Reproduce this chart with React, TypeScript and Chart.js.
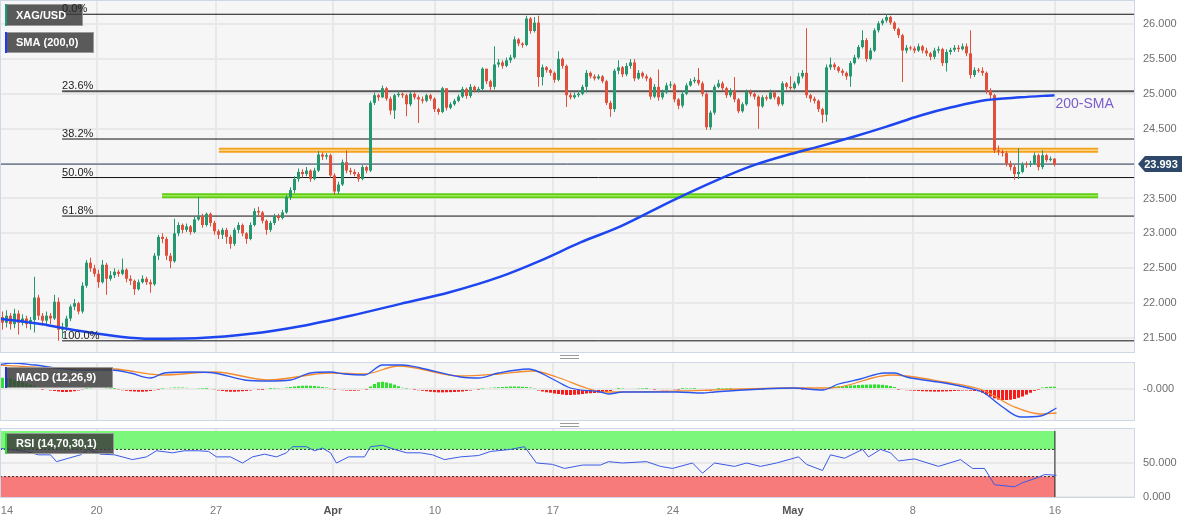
import React, { useEffect, useRef } from 'react';
import { Chart, registerables } from 'chart.js';

Chart.register(...registerables);

const FONT = '"Liberation Sans", Arial, Helvetica, sans-serif';

// ---------- price data (4H candles, XAG/USD) ----------
const FIRST_OPEN = 21.8;
const CLOSES = [
  21.72, 21.82, 21.70, 21.85, 21.72, 21.78, 21.70, 21.76, 22.08, 21.82,
  21.75, 21.82, 21.78, 22.02, 21.62, 21.66, 21.78, 21.95, 22.00, 21.88,
  22.25, 22.58, 22.50, 22.42, 22.30, 22.55, 22.35, 22.40, 22.45, 22.42,
  22.48, 22.35, 22.32, 22.20, 22.30, 22.35, 22.30, 22.27, 22.68, 22.95,
  22.92, 22.68, 22.60, 23.00, 23.12, 23.05, 23.10, 23.02, 23.20, 23.25,
  23.12, 23.28, 23.15, 23.03, 22.98, 23.05, 22.95, 22.85, 23.05, 23.12,
  23.00, 22.92, 23.12, 23.32, 23.30, 23.18, 23.05, 23.15, 23.25, 23.22,
  23.30, 23.52, 23.62, 23.78, 23.88, 23.85, 23.90, 23.78, 23.90, 24.13,
  24.10, 24.12, 23.83, 23.60, 23.70, 24.02, 23.90, 23.88, 23.85, 23.78,
  23.95, 23.90, 24.87, 24.98, 24.95, 25.08, 24.93, 24.76, 24.98, 25.00,
  24.98, 24.85, 25.00, 24.95, 24.92, 24.90, 24.98, 24.93, 24.78, 24.74,
  25.08, 24.80, 24.85, 24.90, 24.96, 25.07, 24.97, 25.10, 25.05, 25.07,
  25.36, 25.18, 25.10, 25.42, 25.45, 25.40, 25.48, 25.52, 25.78, 25.72,
  25.70, 26.08, 25.90, 26.02, 25.24, 25.38, 25.34, 25.30, 25.20, 25.50,
  25.40, 24.98, 24.95, 24.98, 25.00, 25.10, 25.30, 25.25, 25.22, 25.25,
  25.18, 24.87, 24.78, 25.33, 25.38, 25.28, 25.40, 25.45, 25.22, 25.30,
  25.25, 25.22, 24.96, 25.10, 24.95, 25.02, 25.12, 25.13, 24.92, 24.83,
  25.00, 25.12, 25.18, 25.20, 25.15, 25.00, 24.52, 24.73, 25.10, 25.15,
  25.08, 24.98, 25.05, 24.92, 24.75, 24.85, 25.03, 25.00, 24.96, 24.82,
  24.95, 24.93, 25.02, 24.95, 24.85, 25.15, 25.10, 25.08, 25.15, 25.25,
  25.30, 24.98, 24.93, 24.90, 24.78, 24.70, 25.38, 25.42, 25.38, 25.33,
  25.30, 25.25, 25.44, 25.52, 25.67, 25.77, 25.50, 25.62, 25.91, 26.01,
  26.05, 26.10, 26.02, 25.93, 25.84, 25.62, 25.66, 25.65, 25.62, 25.68,
  25.62, 25.58, 25.53, 25.62, 25.64, 25.44, 25.60, 25.63, 25.66, 25.64,
  25.68, 25.58, 25.27, 25.34, 25.33, 25.30, 25.05, 24.98, 24.19, 24.17,
  24.15, 24.00, 23.95, 23.85, 23.88, 23.99, 23.98, 24.00, 24.12, 23.95,
  24.12, 24.05, 24.07, 23.99,
];
const HIGHS = [
  21.88, 21.90, 21.86, 21.92, 21.90, 21.84, 21.82, 21.80, 22.38, 22.12,
  21.86, 21.88, 21.86, 22.12, 22.08, 21.72, 21.82, 21.98, 22.06, 22.02,
  22.30, 22.62, 22.65, 22.55, 22.48, 22.62, 22.58, 22.46, 22.50, 22.48,
  22.64, 22.50, 22.40, 22.34, 22.34, 22.40, 22.38, 22.34, 22.72, 22.98,
  23.00, 22.95, 22.72, 23.21, 23.16, 23.14, 23.14, 23.12, 23.24, 23.52,
  23.28, 23.30, 23.30, 23.18, 23.06, 23.08, 23.08, 22.98, 23.08, 23.16,
  23.14, 23.02, 23.16, 23.36, 23.38, 23.32, 23.20, 23.18, 23.28, 23.28,
  23.34, 23.55, 23.66, 23.82, 23.93, 23.92, 23.95, 23.92, 23.94, 24.18,
  24.16, 24.15, 24.14, 23.86, 23.74, 24.06, 24.19, 23.94, 23.92, 23.88,
  23.98, 23.97, 24.90, 25.02, 25.00, 25.12, 25.10, 24.96, 25.00, 25.04,
  25.02, 25.00, 25.03, 25.02, 24.98, 24.96, 25.00, 25.00, 24.95, 24.80,
  25.10, 25.07, 24.88, 24.93, 24.99, 25.10, 25.09, 25.14, 25.12, 25.10,
  25.38, 25.36, 25.20, 25.68, 25.50, 25.48, 25.52, 25.56, 25.82, 25.80,
  25.74, 26.12, 26.10, 26.10, 26.12, 25.42, 25.40, 25.36, 25.32, 25.61,
  25.52, 25.42, 25.02, 25.02, 25.04, 25.13, 25.34, 25.32, 25.28, 25.28,
  25.27, 25.20, 24.90, 25.36, 25.48, 25.40, 25.44, 25.50, 25.50, 25.34,
  25.32, 25.28, 25.24, 25.14, 25.35, 25.06, 25.16, 25.18, 25.15, 24.94,
  25.04, 25.15, 25.22, 25.24, 25.37, 25.18, 25.02, 24.76, 25.13, 25.20,
  25.18, 25.10, 25.08, 25.24, 24.94, 24.88, 25.06, 25.06, 25.02, 24.98,
  24.98, 24.98, 25.06, 25.04, 24.97, 25.18, 25.17, 25.25, 25.18, 25.30,
  25.34, 25.94, 25.00, 24.96, 24.92, 24.80, 25.42, 25.52, 25.45, 25.40,
  25.36, 25.32, 25.47, 25.56, 25.70, 25.91, 25.80, 25.66, 25.94, 26.04,
  26.08, 26.14, 26.12, 26.04, 25.95, 25.86, 25.70, 25.69, 25.68, 25.72,
  25.70, 25.66, 25.60, 25.66, 25.68, 25.66, 25.64, 25.66, 25.70, 25.70,
  25.72, 25.72, 25.91, 25.38, 25.37, 25.38, 25.32, 25.08, 25.00, 24.26,
  24.20, 24.18, 24.04, 23.98, 24.22, 24.02, 24.03, 24.04, 24.16, 24.14,
  24.19, 24.14, 24.10, 24.08,
];
const LOWS = [
  21.62, 21.65, 21.62, 21.64, 21.55, 21.68, 21.64, 21.62, 21.58, 21.76,
  21.68, 21.70, 21.70, 21.76, 21.46, 21.50, 21.60, 21.74, 21.90, 21.84,
  21.85, 22.22, 22.45, 22.38, 22.22, 22.28, 22.12, 22.32, 22.36, 22.38,
  22.40, 22.30, 22.26, 22.12, 22.18, 22.28, 22.26, 22.15, 22.25, 22.62,
  22.86, 22.62, 22.50, 22.58, 22.96, 23.00, 23.02, 22.98, 23.00, 23.18,
  23.08, 23.10, 23.10, 22.98, 22.92, 22.92, 22.85, 22.78, 22.82, 23.00,
  22.96, 22.85, 22.90, 23.10, 23.24, 23.14, 22.98, 23.02, 23.12, 23.18,
  23.20, 23.28, 23.48, 23.58, 23.74, 23.80, 23.82, 23.74, 23.76, 23.88,
  24.05, 24.06, 23.80, 23.55, 23.56, 23.68, 23.86, 23.84, 23.82, 23.74,
  23.76, 23.86, 23.88, 24.84, 24.90, 24.94, 24.90, 24.70, 24.64, 24.95,
  24.94, 24.68, 24.82, 24.92, 24.58, 24.86, 24.88, 24.90, 24.74, 24.70,
  24.72, 24.76, 24.78, 24.83, 24.88, 24.94, 24.93, 24.94, 25.02, 25.02,
  25.04, 25.14, 25.04, 25.06, 25.38, 25.36, 25.38, 25.44, 25.50, 25.68,
  25.66, 25.68, 25.86, 25.88, 25.10, 25.12, 25.30, 25.26, 25.16, 25.18,
  25.36, 24.81, 24.92, 24.93, 24.95, 24.98, 25.02, 25.22, 25.19, 25.20,
  25.15, 24.84, 24.67, 24.74, 25.28, 25.24, 25.25, 25.36, 25.18, 25.20,
  25.22, 25.18, 24.92, 24.94, 24.90, 24.92, 25.00, 25.08, 24.88, 24.78,
  24.80, 24.98, 25.10, 25.15, 25.12, 24.96, 24.48, 24.48, 24.70, 25.08,
  25.04, 24.94, 24.95, 24.88, 24.72, 24.73, 24.83, 24.96, 24.92, 24.50,
  24.80, 24.90, 24.92, 24.92, 24.82, 24.83, 25.06, 25.04, 25.06, 25.12,
  25.22, 24.94, 24.88, 24.86, 24.74, 24.58, 24.60, 25.34, 25.34, 25.30,
  25.26, 25.20, 25.10, 25.42, 25.50, 25.65, 25.46, 25.48, 25.60, 25.88,
  25.98, 26.02, 25.99, 25.90, 25.80, 25.17, 25.58, 25.62, 25.58, 25.60,
  25.58, 25.54, 25.48, 25.50, 25.58, 25.40, 25.32, 25.56, 25.60, 25.60,
  25.62, 25.54, 25.22, 25.24, 25.30, 25.26, 25.00, 24.92, 24.15, 24.12,
  24.10, 23.96, 23.90, 23.77, 23.78, 23.86, 23.94, 23.95, 23.98, 23.90,
  23.92, 24.02, 24.03, 23.96,
];

// 200-period SMA, read at sample candles
const SMA_X = [-1, 9.5, 19.5, 29.5, 37, 49.5, 62, 74.5, 87, 99.5, 112, 124.5, 134.5, 144.5, 154.5, 167.5, 178.5, 187.5, 198.5, 204.5, 212.5, 221, 229.5, 237.5, 246, 254.5, 263];
const SMA_Y = [21.78, 21.70, 21.60, 21.52, 21.49, 21.50, 21.56, 21.67, 21.82, 21.99, 22.16, 22.38, 22.61, 22.87, 23.10, 23.47, 23.76, 23.97, 24.16, 24.25, 24.38, 24.53, 24.69, 24.81, 24.91, 24.95, 24.98];
const SMA_LABEL = '200-SMA';

// Fibonacci retracement
const FIB_LEVELS = [26.14, 25.035, 24.352, 23.80, 23.248, 21.46];
const FIB_LABELS = ['0.0%', '23.6%', '38.2%', '50.0%', '61.8%', '100.0%'];
const FIB_START = 14.9;

// Horizontal levels
const RESISTANCE = 24.19;
const RESISTANCE_FROM = 54.1;
const SUPPORT = 23.54;
const SUPPORT_FROM = 39.9;
const LEVEL_TO = 273.9;
const LAST_PRICE = 23.993;

// MACD (12,26,9)
const MACD_X = [-1, 2.25, 8, 18.5, 27, 32, 37, 40.5, 47.5, 53, 60.5, 66.5, 72, 77, 82, 85.5, 90.5, 95, 100, 104.5, 114.5, 119, 124, 131.5, 137.5, 142, 149.5, 151.5, 155, 168.5, 175, 178, 197.5, 205, 209, 214.5, 220.5, 223, 226, 235.5, 241.5, 245, 250, 254.5, 259.5, 263.5];
const MACD_Y = [0.192, 0.208, 0.192, 0.152, 0.152, 0.128, 0.088, 0.128, 0.136, 0.128, 0.072, 0.064, 0.072, 0.128, 0.136, 0.12, 0.112, 0.192, 0.192, 0.168, 0.096, 0.088, 0.128, 0.16, 0.08, 0.008, -0.024, -0.04, -0.024, -0.024, -0.032, -0.024, 0.008, -0.008, 0.04, 0.08, 0.128, 0.128, 0.096, 0.048, 0.008, -0.024, -0.144, -0.224, -0.216, -0.152];
const SIGNAL_X = [-1, 13.5, 28, 39.5, 53, 66.5, 82, 90.5, 99, 114.5, 124, 132.5, 138.5, 146, 149.5, 168.5, 197.5, 207, 222, 235.5, 245, 253, 259.5, 263.5];
const SIGNAL_Y = [0.192, 0.168, 0.16, 0.112, 0.136, 0.072, 0.128, 0.12, 0.184, 0.104, 0.12, 0.144, 0.096, 0.008, -0.024, -0.016, 0.008, 0.008, 0.112, 0.056, -0.008, -0.144, -0.2, -0.192];
const HIST = [
  0.09, 0.09, 0.085, 0.075, 0.065, 0.055, 0.045, 0.035, 0.025, 0.012,
  -0.004, -0.008, -0.012, -0.016, -0.02, -0.024, -0.024, -0.022, -0.018, -0.012, -0.006,
  0.004, 0.006, 0.008, 0.008, 0.008, 0.006, 0.004, 0.002,
  -0.006, -0.01, -0.014, -0.018, -0.02, -0.022, -0.022, -0.02, -0.016, -0.01, -0.004,
  0.004, 0.008, 0.01, 0.012, 0.012, 0.012, 0.01, 0.008, 0.008, 0.006, 0.004, 0.002, 0,
  -0.006, -0.012, -0.016, -0.02, -0.022, -0.022, -0.02, -0.018, -0.016, -0.012, -0.008, -0.004, -0.002,
  0, 0.002, 0.004, 0.006, 0.008, 0.012,
  0.016, 0.02, 0.024, 0.026, 0.027, 0.026, 0.024, 0.02, 0.016, 0.012, 0.006,
  -0.004, -0.008, -0.01, -0.012, -0.014, -0.014, -0.012, -0.008, -0.004,
  0.02, 0.04, 0.055, 0.058, 0.052, 0.045, 0.035, 0.022, 0.01,
  0.004, 0, -0.004,
  -0.01, -0.014, -0.018, -0.022, -0.025, -0.027, -0.027, -0.026, -0.025, -0.024, -0.022, -0.02, -0.016, -0.012, -0.008, -0.004,
  0.004, 0.008, 0.01, 0.012, 0.014, 0.016, 0.018, 0.02, 0.02, 0.02, 0.018, 0.016, 0.012, 0.006,
  -0.012, -0.02, -0.026, -0.03, -0.036, -0.04, -0.044, -0.048, -0.048, -0.046, -0.044, -0.04, -0.036, -0.034, -0.032, -0.03,
  -0.028, -0.024, -0.016, -0.008,
  0.002, 0.006, 0.008, 0.008, 0.008, 0.006, 0.004, 0.002, 0,
  -0.004, -0.008, -0.01, -0.01, -0.008, -0.006, -0.004, 0.002,
  0.004, 0.004, 0.002, 0,
  -0.01, -0.016, -0.014, -0.008,
  0.002, 0.004, 0.004, 0.002, -0.004, -0.006, -0.002, 0.004, 0.004, 0.002,
  -0.004, -0.004, 0.002, 0.002, 0.004, 0.004, 0.006, 0.006, 0.006, 0.004,
  0.002, -0.004, -0.006, -0.008, -0.008, -0.006, -0.004,
  0.008, 0.016, 0.02, 0.022, 0.024, 0.026, 0.028, 0.03, 0.032, 0.034, 0.035, 0.036, 0.037, 0.036, 0.034, 0.03, 0.024, 0.016,
  -0.004, -0.008, -0.01, -0.012, -0.014, -0.016, -0.018, -0.019, -0.02, -0.021,
  -0.021, -0.02, -0.019, -0.018, -0.016, -0.014, -0.012, -0.012, -0.014, -0.016, -0.018,
  -0.03, -0.045, -0.06, -0.075, -0.085, -0.088, -0.088, -0.086, -0.08, -0.07, -0.06, -0.045, -0.03, -0.015, -0.004,
  0.012, 0.016, 0.018, 0.018,
];

// RSI (14)
const RSI_X = [-1, 1.5, 6, 9, 12, 13.5, 16.5, 19.5, 21.5, 24.5, 28, 32.5, 36, 38.5, 42.5, 45.5, 49, 51.5, 53.5, 57, 60, 62.5, 65.5, 68.5, 71, 72.5, 76, 78, 80, 82, 83.5, 86.5, 90.5, 92, 95, 98, 101, 104.5, 107.5, 110.5, 114.5, 119, 122, 127, 130.5, 133.5, 137.5, 140.5, 145, 149.5, 151.5, 155, 161, 164.5, 167.5, 172.5, 175, 178, 183, 186, 189.5, 193.5, 199, 201, 205, 207, 210.5, 215, 216.5, 219.5, 222, 224, 228, 234, 239.5, 242.5, 245.5, 248, 253, 255, 259, 260.5, 263.5];
const RSI_Y = [72, 70, 67, 62, 62, 52, 57, 62, 70, 63, 62, 55, 59, 68, 65, 68, 68, 67, 59, 59, 50, 59, 63, 59, 65, 74, 74, 68, 72, 65, 50, 59, 59, 74, 76, 70, 65, 65, 62, 55, 59, 61, 67, 70, 74, 50, 48, 42, 47, 47, 52, 50, 52, 45, 42, 50, 35, 50, 45, 50, 45, 50, 59, 48, 39, 62, 57, 70, 59, 70, 65, 53, 56, 45, 55, 42, 42, 18, 15, 21, 29, 33, 32];
const RSI_HIGH = 70;
const RSI_LOW = 30;
const RSI_BAND_TOP = 97;
const BAND_END = 263.1;

// x axis (candle index positions of the date labels)
const DATE_TICKS = [1.1, 23.5, 53.4, 82.6, 108.1, 137.6, 167.6, 197.6, 227.6, 263.1];
const DATE_LABELS = ['14', '20', '27', 'Apr', '10', '17', '24', 'May', '8', '16'];
const DATE_BOLD = [false, false, false, true, false, false, false, true, false, false];
const PRICE_TICKS = [21.5, 22, 22.5, 23, 23.5, 24, 24.5, 25, 25.5, 26];
const MACD_TICKS = [0];
const RSI_TICKS = [0, 50];

const X_MIN = -0.625;
const X_MAX = 283.125;
const Y_MIN = 21.30;
const Y_MAX = 26.33;

const GREEN = '#26986f';
const RED = '#e0503d';
const GRID = '#e8e8e8';

function xAxis(showLabels: boolean): any {
  return {
    type: 'linear',
    min: X_MIN,
    max: X_MAX,
    bounds: 'data',
    offset: false,
    afterBuildTicks: (s: any) => {
      s.ticks = DATE_TICKS.map((v) => ({ value: v }));
    },
    grid: {
      offset: false,
      drawTicks: showLabels,
      tickLength: 7,
      tickColor: 'rgba(0,0,0,0)',
      lineWidth: 2,
      color: (c: any) => (c.index === 0 ? 'rgba(0,0,0,0)' : GRID),
    },
    border: { display: false },
    ticks: showLabels
      ? {
          autoSkip: false,
          maxRotation: 0,
          minRotation: 0,
          padding: 0,
          callback: (_v: any, i: number) => DATE_LABELS[i],
          color: (c: any) => (DATE_BOLD[c.index] ? '#555555' : '#7a7a7a'),
          font: (c: any) => ({ family: FONT, size: 11, weight: DATE_BOLD[c.index] ? 'bold' : 'normal' }),
        }
      : { display: false },
    afterFit: (s: any) => {
      s.height = showLabels ? 26 : 0;
    },
  };
}

function yAxis(min: number, max: number, ticks: number[], fmt: (v: number) => string): any {
  return {
    type: 'linear',
    position: 'right',
    min,
    max,
    bounds: 'data',
    afterBuildTicks: (s: any) => {
      s.ticks = ticks.map((v) => ({ value: v }));
    },
    grid: { drawTicks: true, tickLength: 8, tickColor: 'rgba(0,0,0,0)', lineWidth: 2, color: GRID },
    border: { display: false },
    ticks: {
      padding: 0,
      color: '#6f6f6f',
      font: { family: FONT, size: 11, lineHeight: 0.01 },
      callback: (v: any) => fmt(Number(v)),
    },
    afterFit: (s: any) => {
      s.width = 65;
    },
  };
}

function drawTag(ctx: CanvasRenderingContext2D, x: number, y: number, w: number, h: number, text: string, stripe: string) {
  ctx.save();
  ctx.fillStyle = 'rgba(60,60,60,0.84)';
  ctx.fillRect(x, y, w, h);
  ctx.strokeStyle = 'rgba(170,170,170,0.8)';
  ctx.lineWidth = 1;
  ctx.strokeRect(x + 0.5, y + 0.5, w - 1, h - 1);
  ctx.fillStyle = stripe;
  ctx.fillRect(x, y, 2, h);
  ctx.fillStyle = '#ffffff';
  ctx.font = `bold 11px ${FONT}`;
  ctx.textAlign = 'left';
  ctx.textBaseline = 'middle';
  ctx.fillText(text, x + 11, y + h / 2 + 0.5);
  ctx.restore();
}

const panelPlugin = {
  id: 'panelBg',
  beforeDraw(chart: any) {
    const { ctx, chartArea: a } = chart;
    ctx.save();
    ctx.fillStyle = '#f6f6f6';
    ctx.fillRect(a.left, a.top, a.right - a.left, a.bottom - a.top);
    ctx.restore();
  },
  afterDraw(chart: any) {
    const { ctx, chartArea: a } = chart;
    ctx.save();
    ctx.strokeStyle = '#cfd6e6';
    ctx.lineWidth = 1;
    ctx.strokeRect(a.left + 0.5, a.top - 0.5, a.right - a.left - 1, a.bottom - a.top + 1);
    ctx.restore();
  },
};

const mainOverlay = {
  id: 'mainOverlay',
  afterDraw(chart: any) {
    const { ctx } = chart;
    const xs = chart.scales.x;
    const ys = chart.scales.y;
    drawTag(ctx, 5, 4, 78, 22, 'XAG/USD', '#1f9b7c');
    drawTag(ctx, 5, 32, 89, 21, 'SMA (200,0)', '#1b3cff');
    ctx.save();
    ctx.font = `11px ${FONT}`;
    ctx.fillStyle = '#222222';
    ctx.textAlign = 'left';
    ctx.textBaseline = 'alphabetic';
    const fx = xs.getPixelForValue(FIB_START);
    FIB_LEVELS.forEach((lv, k) => {
      ctx.fillText(FIB_LABELS[k], fx, ys.getPixelForValue(lv) - 2);
    });
    // SMA label
    const n = SMA_X.length - 1;
    ctx.fillStyle = '#7b5ccc';
    ctx.font = `14px ${FONT}`;
    ctx.textBaseline = 'middle';
    ctx.fillText(SMA_LABEL, xs.getPixelForValue(SMA_X[n]) + 1, ys.getPixelForValue(SMA_Y[n]) + 9);
    // last price tag
    const py = Math.round(ys.getPixelForValue(LAST_PRICE));
    ctx.fillStyle = '#2d4868';
    ctx.beginPath();
    ctx.moveTo(1138, py);
    ctx.lineTo(1145, py - 8);
    ctx.lineTo(1182, py - 8);
    ctx.lineTo(1182, py + 8);
    ctx.lineTo(1145, py + 8);
    ctx.closePath();
    ctx.fill();
    ctx.fillStyle = '#ffffff';
    ctx.font = `bold 11px ${FONT}`;
    ctx.textAlign = 'center';
    ctx.fillText(LAST_PRICE.toFixed(3), 1161, py + 0.5);
    ctx.restore();
  },
};

const macdOverlay = {
  id: 'macdOverlay',
  afterDraw(chart: any) {
    drawTag(chart.ctx, 5, 11, 108, 21, 'MACD (12,26,9)', '#2233cc');
  },
};

const rsiOverlay = {
  id: 'rsiOverlay',
  afterDraw(chart: any) {
    drawTag(chart.ctx, 5, 10, 109, 21, 'RSI (14,70,30,1)', '#33dd33');
  },
};

function hline(y: number, from: number, to: number, color: string, width: number, order: number, extra: any = {}): any {
  return {
    type: 'line',
    data: [
      { x: from, y },
      { x: to, y },
    ],
    borderColor: color,
    borderWidth: width,
    pointRadius: 0,
    fill: false,
    order,
    ...extra,
  };
}

const baseOptions = (padTop: number, padBottom: number) => ({
  responsive: false,
  maintainAspectRatio: false,
  animation: false as const,
  events: [] as any[],
  layout: { padding: { top: padTop, bottom: padBottom, left: 0, right: 0 }, autoPadding: false },
  plugins: { legend: { display: false }, tooltip: { enabled: false } },
});

export default function App() {
  const mainRef = useRef<HTMLCanvasElement>(null);
  const macdRef = useRef<HTMLCanvasElement>(null);
  const rsiRef = useRef<HTMLCanvasElement>(null);

  useEffect(() => {
    const charts: Chart[] = [];
    const opens = CLOSES.map((_c, i) => (i === 0 ? FIRST_OPEN : CLOSES[i - 1]));
    const colors = CLOSES.map((c, i) => (c >= opens[i] ? GREEN : RED));

    if (mainRef.current) {
      const datasets: any[] = [
        {
          type: 'line',
          data: SMA_X.map((x, i) => ({ x, y: SMA_Y[i] })),
          borderColor: '#1e46f0',
          borderWidth: 2.5,
          pointRadius: 0,
          tension: 0.4,
          cubicInterpolationMode: 'monotone',
          fill: false,
          order: 0,
        },
        {
          type: 'bar',
          data: CLOSES.map((c, i) => ({ x: i, y: [opens[i], c] })),
          backgroundColor: colors,
          borderWidth: 0,
          barThickness: 3,
          grouped: false,
          minBarLength: 1,
          inflateAmount: 0,
          order: 1,
        },
        {
          type: 'bar',
          data: CLOSES.map((_c, i) => ({ x: i, y: [LOWS[i], HIGHS[i]] })),
          backgroundColor: colors,
          borderWidth: 0,
          barThickness: 1,
          grouped: false,
          inflateAmount: 0,
          order: 2,
        },
        hline(LAST_PRICE, X_MIN, X_MAX, '#2c3e5a', 1, 3),
        hline(RESISTANCE, RESISTANCE_FROM, LEVEL_TO, '#fbd389', 1.5, 4),
        hline(RESISTANCE, RESISTANCE_FROM, LEVEL_TO, '#f4a11d', 5, 5),
        hline(SUPPORT, SUPPORT_FROM, LEVEL_TO, '#9ae856', 1.5, 6),
        hline(SUPPORT, SUPPORT_FROM, LEVEL_TO, '#62cc16', 5, 7),
        ...FIB_LEVELS.map((lv, k) =>
          hline(lv, FIB_START, X_MAX, k === 1 ? '#555555' : '#111111', k === 1 ? 2 : 1, 8 + k),
        ),
      ];
      charts.push(
        new Chart(mainRef.current, {
          type: 'bar',
          data: { datasets },
          options: {
            ...baseOptions(1, 4),
            scales: {
              x: xAxis(false),
              y: yAxis(Y_MIN, Y_MAX, PRICE_TICKS, (v) => v.toFixed(3)),
            },
          } as any,
          plugins: [panelPlugin, mainOverlay],
        }),
      );
    }

    if (macdRef.current) {
      const datasets: any[] = [
        {
          type: 'line',
          data: MACD_X.map((x, i) => ({ x, y: MACD_Y[i] })),
          borderColor: '#2a55ee',
          borderWidth: 1.3,
          pointRadius: 0,
          tension: 0.4,
          cubicInterpolationMode: 'monotone',
          fill: false,
          order: 0,
        },
        {
          type: 'line',
          data: SIGNAL_X.map((x, i) => ({ x, y: SIGNAL_Y[i] })),
          borderColor: '#f58a2a',
          borderWidth: 1.3,
          pointRadius: 0,
          tension: 0.4,
          cubicInterpolationMode: 'monotone',
          fill: false,
          order: 1,
        },
        {
          type: 'bar',
          data: HIST.map((v, i) => ({ x: i, y: v })),
          backgroundColor: HIST.map((v) => (v >= 0 ? '#2ee22e' : '#f71c1c')),
          borderWidth: 0,
          barThickness: 3,
          grouped: false,
          inflateAmount: 0,
          order: 2,
        },
      ];
      charts.push(
        new Chart(macdRef.current, {
          type: 'bar',
          data: { datasets },
          options: {
            ...baseOptions(7, 3),
            scales: {
              x: xAxis(false),
              y: yAxis(-0.248, 0.208, MACD_TICKS, () => '-0.000'),
            },
          } as any,
          plugins: [panelPlugin, macdOverlay],
        }),
      );
    }

    if (rsiRef.current) {
      const datasets: any[] = [
        {
          type: 'line',
          data: RSI_X.map((x, i) => ({ x, y: RSI_Y[i] })),
          borderColor: '#3a5ae6',
          borderWidth: 1,
          pointRadius: 0,
          tension: 0,
          fill: false,
          order: 0,
        },
        {
          type: 'line',
          data: [
            { x: BAND_END, y: 0 },
            { x: BAND_END, y: RSI_BAND_TOP },
          ],
          borderColor: '#222222',
          borderWidth: 1,
          pointRadius: 0,
          fill: false,
          order: 1,
        },
        hline(RSI_HIGH, X_MIN, BAND_END, '#2a3a2a', 1, 2, { borderDash: [2, 2] }),
        hline(RSI_LOW, X_MIN, BAND_END, '#3a2a2a', 1, 2, { borderDash: [2, 2] }),
        hline(RSI_BAND_TOP, X_MIN, BAND_END, 'rgba(0,0,0,0)', 1, 4, { fill: { value: RSI_HIGH }, backgroundColor: '#7bf77b' }),
        hline(RSI_LOW, X_MIN, BAND_END, 'rgba(0,0,0,0)', 1, 4, { fill: { value: 0 }, backgroundColor: '#f87b7b' }),
      ];
      charts.push(
        new Chart(rsiRef.current, {
          type: 'line',
          data: { datasets },
          options: {
            ...baseOptions(6, 0),
            scales: {
              x: xAxis(true),
              y: yAxis(0, 100, RSI_TICKS, (v) => v.toFixed(3)),
            },
          } as any,
          plugins: [panelPlugin, rsiOverlay],
        }),
      );
    }

    return () => charts.forEach((c) => c.destroy());
  }, []);

  const handle = (top: number) => (
    <div
      style={{
        position: 'absolute',
        left: 560,
        top,
        width: 19,
        height: 2,
        borderTop: '1px solid #9a9a9a',
        borderBottom: '1px solid #9a9a9a',
      }}
    />
  );

  return (
    <div style={{ position: 'absolute', left: 0, top: 0, width: 1200, height: 523, background: '#ffffff', overflow: 'hidden' }}>
      <canvas ref={mainRef} width={1200} height={356} style={{ position: 'absolute', left: 0, top: 0, display: 'block' }} />
      <canvas ref={macdRef} width={1200} height={67} style={{ position: 'absolute', left: 0, top: 356, display: 'block' }} />
      <canvas ref={rsiRef} width={1200} height={100} style={{ position: 'absolute', left: 0, top: 423, display: 'block' }} />
      {handle(355)}
      {handle(423)}
    </div>
  );
}
